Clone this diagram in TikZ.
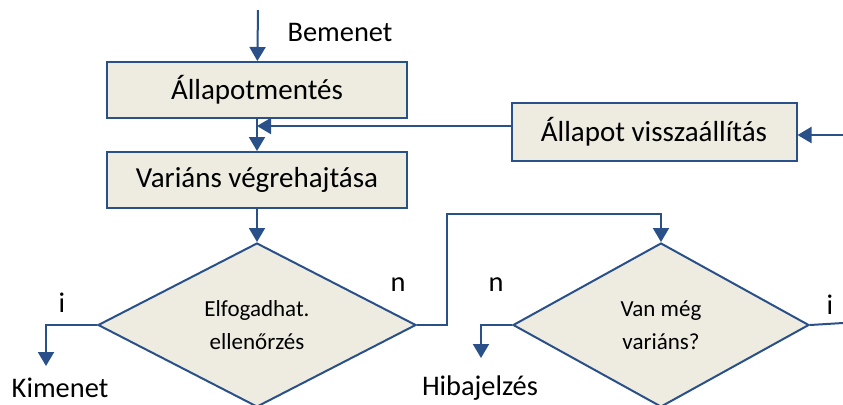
\documentclass[tikz,border=0pt]{standalone}
\usepackage{fontspec}
\setmainfont{Carlito}
\usepackage{xcolor}
\usepackage{tikz}
\usetikzlibrary{shapes.geometric, arrows.meta, positioning}
\definecolor{flowblue}{RGB}{41,80,137}
\definecolor{flowfill}{RGB}{238,236,225}
\tikzstyle{block} = [rectangle, minimum width=150pt, minimum height=28pt,
  text centered, draw=flowblue, line width=1pt, fill=flowfill,
  font=\fontsize{14.5}{17}\selectfont]
\tikzstyle{decision} = [diamond, minimum width=159pt, minimum height=82pt,
  inner sep=0pt, align=center, draw=flowblue, line width=1pt, fill=flowfill,
  font=\fontsize{11.5}{16.5}\selectfont]
\tikzstyle{arrow} = [line width=1pt, draw=flowblue, -{Triangle[width=8pt,length=7pt]}]
\tikzstyle{line} = [line width=1pt, draw=flowblue]

\begin{document}
\begin{tikzpicture}[x=0.5pt, y=-0.5pt,
  every node/.style={font=\fontsize{14.2}{17}\selectfont}]
\useasboundingbox (0,0) rectangle (843,404);

\node (save) [block] at (257,90) {Állapotmentés};
\node (run) [block, below=16pt of save] {Variáns végrehajtása};
\node (restore) [block, minimum width=142.5pt, minimum height=29pt]
  at (654,132) {Állapot visszaállítás};

\node (check) [decision, below=16.5pt of run] {Elfogadhat.\\ellenőrzés};
\node (more) [decision, minimum width=148pt, right=47.5pt of check]
  {Van még\\variáns?};

% free ends
\coordinate (in) at (258,10);
\coordinate (rin) at (843,135);
\coordinate (okout) at (46,366);
\coordinate (loop) at (447,214);
\coordinate (errout) at (481,358);
\coordinate (yesout) at (843,323);

\node (inlbl) at (340,32) {Bemenet};
\node (oklbl) at (60,388) {Kimenet};
\node (errlbl) at (480,388) {Hibajelzés};
\node (yes1) at (62,303) {i};
\node (no1) at (398,285) {n};
\node (no2) at (496,285) {n};
\node (yes2) at (830,305) {i};

\draw [arrow] (in) -- (save);
\draw [arrow] (save) -- (run);
\draw [arrow] (run) -- (check);
\draw [arrow] (rin) -- (rin -| restore.east);
\draw [arrow] (restore.west |- 0,126) -- (run.north |- 0,126);
\draw [arrow] (check.west) -| (okout);
\draw [arrow] (check.east) -| (loop) -| (more.north);
\draw [arrow] (more.west) -| (errout);
\draw [line] (more.east) -- (yesout);

\end{tikzpicture}
\end{document}
